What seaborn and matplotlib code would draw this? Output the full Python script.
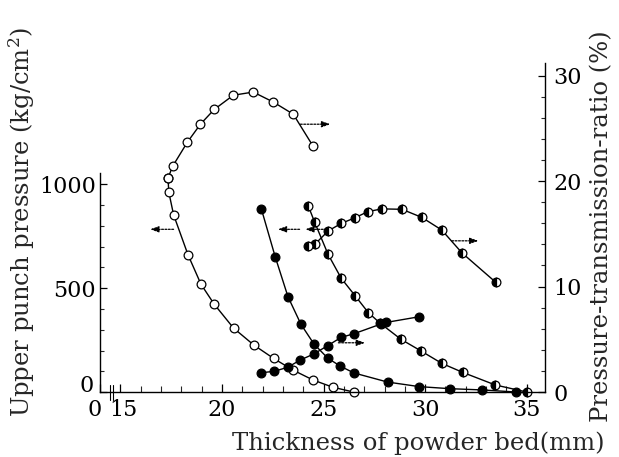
import numpy as np
import pandas as pd
import matplotlib
matplotlib.use("Agg")
import matplotlib.pyplot as plt
import matplotlib.transforms as mtransforms
import seaborn as sns
from matplotlib.ticker import MultipleLocator, FixedLocator

# ---------------- data ----------------
# open circles: upper punch pressure (kg/cm2), left axis
open_p_x = [17.35, 17.38, 17.62, 18.33, 18.97, 19.62, 20.57, 21.56, 22.54, 23.49, 24.48, 25.46, 26.48]
open_p_y = [1030, 965, 854, 661, 519, 423, 308, 227, 162, 106, 58, 23, 0]
# open circles: pressure-transmission ratio (%), right axis
open_r_x = [17.35, 17.57, 18.30, 18.94, 19.62, 20.56, 21.54, 22.53, 23.51, 24.49]
open_r_y = [20.3, 21.4, 23.7, 25.4, 26.8, 28.15, 28.45, 27.5, 26.35, 23.3]

# filled circles: pressure, left axis
fill_p_x = [21.94, 22.62, 23.25, 23.89, 24.53, 25.21, 25.82, 26.49, 28.15, 29.71, 31.23, 32.82, 34.46]
fill_p_y = [882, 652, 459, 326, 231, 163, 125, 92, 48, 26, 16, 10, 0]
# filled circles: ratio, right axis
fill_r_x = [21.94, 22.56, 23.23, 23.85, 24.51, 25.20, 25.86, 26.50, 27.84, 28.08, 29.71]
fill_r_y = [1.83, 1.96, 2.34, 3.03, 3.60, 4.39, 5.18, 5.53, 6.46, 6.60, 7.14]

# half-filled circles: pressure, left axis
half_p_x = [24.25, 24.56, 25.22, 25.87, 26.56, 27.20, 27.79, 28.81, 29.81, 30.82, 31.84, 33.45, 35.0]
half_p_y = [896, 819, 664, 548, 463, 383, 331, 254, 197, 138, 95, 34, 0]
# half-filled circles: ratio, right axis
half_r_x = [24.25, 24.57, 25.23, 25.87, 26.54, 27.18, 27.87, 28.86, 29.84, 30.82, 31.81, 33.48]
half_r_y = [13.81, 14.01, 15.28, 15.99, 16.52, 17.11, 17.37, 17.33, 16.56, 15.36, 13.20, 10.40]

x_ticks = [15, 20, 25, 30, 35]
x_tick_labels = ["15", "20", "25", "30", "35"]
left_ticks = [0, 500, 1000]
right_ticks = [0, 10, 20, 30]

# ---------------- style ----------------
sns.set_style("ticks")
plt.rcParams["font.family"] = ["DejaVu Serif"]
plt.rcParams["mathtext.fontset"] = "dejavuserif"

fig = plt.figure(figsize=(6.19, 4.57), dpi=100)
ax = fig.add_subplot(111)
fig.subplots_adjust(left=0.1616, right=0.8805, bottom=0.1422, top=0.862)
ax2 = ax.twinx()

XMIN, XMAX = 14.0, 35.9
ax.set_xlim(XMIN, XMAX)
ax.set_ylim(0, 1585)
ax2.set_ylim(0, 31.2)

line_kw = dict(color="black", linewidth=1.0, marker="o", markersize=6.3,
               markeredgecolor="black", markeredgewidth=0.9,
               sort=False, estimator=None, legend=False)

def draw(axis, xs, ys, style):
    df = pd.DataFrame({"x": xs, "y": ys})
    kw = dict(line_kw)
    if style == "open":
        kw.update(markerfacecolor="white")
    elif style == "fill":
        kw.update(markerfacecolor="black")
    else:
        kw.update(markerfacecolor="black", fillstyle="left", markerfacecoloralt="white")
    sns.lineplot(data=df, x="x", y="y", ax=axis, **kw)
    for ln in axis.lines:
        ln.set_clip_on(False)

draw(ax, open_p_x, open_p_y, "open")
draw(ax, fill_p_x, fill_p_y, "fill")
draw(ax, half_p_x, half_p_y, "half")
draw(ax2, open_r_x, open_r_y, "open")
draw(ax2, fill_r_x, fill_r_y, "fill")
draw(ax2, half_r_x, half_r_y, "half")

# direction arrows (which axis each curve belongs to)
arr = dict(arrowstyle="-|>,head_length=0.5,head_width=0.18", color="black",
           lw=0.9, linestyle=(0, (1.5, 1.2)), shrinkA=0, shrinkB=0)
for (x0, x1, y) in [(17.62, 16.47, 784), (23.82, 22.75, 784), (25.15, 24.10, 784)]:
    ax.annotate("", xy=(x1, y), xytext=(x0, y), arrowprops=arr)
for (x0, x1, y) in [(23.86, 25.33, 25.4), (31.31, 32.62, 14.34), (25.73, 27.04, 4.67)]:
    ax2.annotate("", xy=(x1, y), xytext=(x0, y), arrowprops=arr)

# axes / spines
for a in (ax, ax2):
    a.spines["top"].set_visible(False)
    a.set_xlabel("")
    a.set_ylabel("")
ax.spines["right"].set_visible(False)
ax2.spines["left"].set_visible(False)
ax2.spines["bottom"].set_visible(False)
ax.spines["left"].set_bounds(0, 1055)
for a in (ax, ax2):
    for s in a.spines.values():
        s.set_linewidth(1.0)
        s.set_color("black")

ax.set_xticks([XMIN] + x_ticks)
ax.set_xticklabels(["0"] + x_tick_labels)
ax.xaxis.set_minor_locator(FixedLocator(list(range(15, 36))))
ax.set_yticks(left_ticks)
ax.set_yticklabels([str(v) for v in left_ticks])
ax.yaxis.set_minor_locator(FixedLocator(list(range(0, 1100, 100))))
ax2.set_yticks(right_ticks)
ax2.set_yticklabels([str(v) for v in right_ticks])
ax2.yaxis.set_minor_locator(MultipleLocator(2))

ax.tick_params(axis="x", which="major", direction="in", length=6, width=0.9,
               labelsize=16, pad=5, colors="black")
ax.tick_params(axis="x", which="minor", direction="in", length=4, width=0.8)
ax.tick_params(axis="y", which="major", direction="in", length=5, width=0.9,
               labelsize=16, pad=3, colors="black")
ax.tick_params(axis="y", which="minor", direction="in", length=3, width=0.8)
ax2.tick_params(axis="y", which="major", direction="in", length=5, width=0.9,
                labelsize=16, pad=6, colors="black")
ax2.tick_params(axis="y", which="minor", direction="in", length=3, width=0.8)

def shift(lbl, dx_px, dy_px):
    lbl.set_transform(lbl.get_transform() +
                      mtransforms.ScaledTranslation(dx_px / 100, dy_px / 100,
                                                    fig.dpi_scale_trans))

# the broken x axis: "0" a little left, "15" a little right, as in the original
shift(ax.get_xticklabels()[0], -5, 0)
shift(ax.get_xticklabels()[1], 3, 0)
# the "0" of the pressure axis sits a little above the baseline
shift(ax.get_yticklabels()[0], -2, 9)

# axis break marks near the origin
for xb in (0.022, 0.030):
    ax.plot([xb, xb], [-0.025, 0.02], transform=ax.transAxes, color="black",
            lw=0.8, clip_on=False)

# axis titles
fig.text(418 / 619, 1 - 443 / 457, "Thickness of powder bed(mm)", ha="center",
         va="center", fontsize=17.5)
fig.text(22 / 619, 1 - 222 / 457, "Upper punch pressure (kg/cm$^2$)", ha="center",
         va="center", rotation=90, fontsize=17.5)
fig.text(602 / 619, 1 - 226 / 457, "Pressure-transmission-ratio (%)", ha="center",
         va="center", rotation=90, fontsize=17.5)

fig.savefig("out.png", dpi=100)
